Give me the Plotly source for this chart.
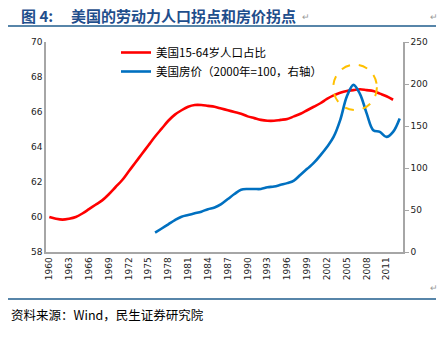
import plotly.graph_objects as go

years_red = list(range(1960, 2013))
red_vals = [60.0, 59.9, 59.85, 59.9, 60.0, 60.2, 60.45, 60.7, 60.95, 61.3,
            61.7, 62.1, 62.6, 63.1, 63.6, 64.1, 64.6, 65.05, 65.5, 65.85,
            66.1, 66.3, 66.4, 66.4, 66.35, 66.3, 66.2, 66.1, 66.0, 65.9,
            65.75, 65.65, 65.55, 65.5, 65.5, 65.55, 65.6, 65.75, 65.9, 66.1,
            66.3, 66.5, 66.75, 66.95, 67.1, 67.2, 67.25, 67.3, 67.25, 67.2,
            67.05, 66.9, 66.7]

years_blue = list(range(1976, 2014))
blue_vals = [23, 28, 33, 38, 42, 44, 46, 48, 51, 53,
             57, 63, 69, 74, 75, 75, 75, 77, 78, 80,
             82, 85, 92, 99, 106, 115, 125, 137, 157, 185,
             199, 188, 165, 145, 143, 137, 143, 159]

name_red = "美国15-64岁人口占比"
name_blue = "美国房价（2000年=100，右轴）"
title_num = "图 4:"
title_text = "美国的劳动力人口拐点和房价拐点"
source_text = "资料来源：Wind，民生证券研究院"

W, H = 447, 341
L, R, T, B = 46, 403, 42, 252
pw, ph = R - L, B - T

def px(x):
    return (x - L) / pw

def py(y):
    return (B - y) / ph

fig = go.Figure()
fig.add_trace(go.Scatter(x=years_red, y=red_vals, name=name_red, mode="lines",
                         line=dict(color="#FF0000", width=2.6, shape="spline")))
fig.add_trace(go.Scatter(x=years_blue, y=blue_vals, name=name_blue, mode="lines",
                         yaxis="y2",
                         line=dict(color="#0070C0", width=2.6, shape="spline")))

tickfont = dict(family="DejaVu Sans, Verdana, sans-serif", size=9, color="#222222")

fig.update_layout(
    width=W, height=H,
    margin=dict(l=L, r=W - R, t=T, b=H - B),
    paper_bgcolor="white", plot_bgcolor="white",
    showlegend=True,
    legend=dict(x=px(116), y=py(38), xanchor="left", yanchor="top",
                bgcolor="rgba(0,0,0,0)", tracegroupgap=0,
                font=dict(family="Noto Sans CJK SC", size=11.5, color="#000000"),
                itemwidth=30),
    xaxis=dict(range=[1959.5, 2013.5], tickmode="linear", tick0=1960, dtick=3,
               tickangle=-90, showgrid=False, zeroline=False,
               showline=True, linecolor="#A6A6A6", linewidth=1.5,
               ticks="", tickfont=tickfont),
    yaxis=dict(range=[58, 70], dtick=2, showgrid=False, zeroline=False,
               showline=True, linecolor="#A6A6A6", linewidth=1.5,
               ticks="", tickfont=tickfont),
    yaxis2=dict(range=[0, 250], dtick=50, overlaying="y", side="right",
                showgrid=False, zeroline=False, showline=True,
                linecolor="#A6A6A6", linewidth=1.5,
                ticks="outside", ticklen=4, tickcolor="#A6A6A6",
                tickfont=tickfont),
)

# highlight circle around house-price peak
fig.add_shape(type="circle", xref="x", yref="y2",
              x0=2006.25 - 3.3, x1=2006.25 + 3.3, y0=196 - 27, y1=196 + 27,
              line=dict(color="#FFC000", width=2, dash="dash"))

title_font = dict(family="Noto Sans CJK SC", size=15, color="#1F4E8C")
# title
fig.add_annotation(xref="paper", yref="paper", x=px(19), y=py(15),
                   xanchor="left", yanchor="middle", showarrow=False,
                   text="<b>" + title_num + "</b>", font=title_font)
fig.add_annotation(xref="paper", yref="paper", x=px(69), y=py(15),
                   xanchor="left", yanchor="middle", showarrow=False,
                   text="<b>" + title_text + "</b>", font=title_font)
fig.add_annotation(xref="paper", yref="paper", x=px(300), y=py(16),
                   xanchor="left", yanchor="middle", showarrow=False,
                   text="↵", font=dict(size=9, color="#999999"))
fig.add_annotation(xref="paper", yref="paper", x=px(428), y=py(16),
                   xanchor="left", yanchor="middle", showarrow=False,
                   text="↵", font=dict(size=9, color="#999999"))
fig.add_annotation(xref="paper", yref="paper", x=px(428), y=py(287),
                   xanchor="left", yanchor="middle", showarrow=False,
                   text="↵", font=dict(size=9, color="#999999"))
# rules
fig.add_shape(type="line", xref="paper", yref="paper",
              x0=px(8), x1=px(436), y0=py(26), y1=py(26),
              line=dict(color="#1F5C8C", width=1.5))
fig.add_shape(type="line", xref="paper", yref="paper",
              x0=px(8), x1=px(436), y0=py(299), y1=py(299),
              line=dict(color="#1F5C8C", width=1.5))
# source
fig.add_annotation(xref="paper", yref="paper", x=px(9), y=py(314),
                   xanchor="left", yanchor="middle", showarrow=False,
                   text=source_text,
                   font=dict(family="Noto Sans CJK SC", size=12.5, color="#000000"))

fig.write_html("out.html")
